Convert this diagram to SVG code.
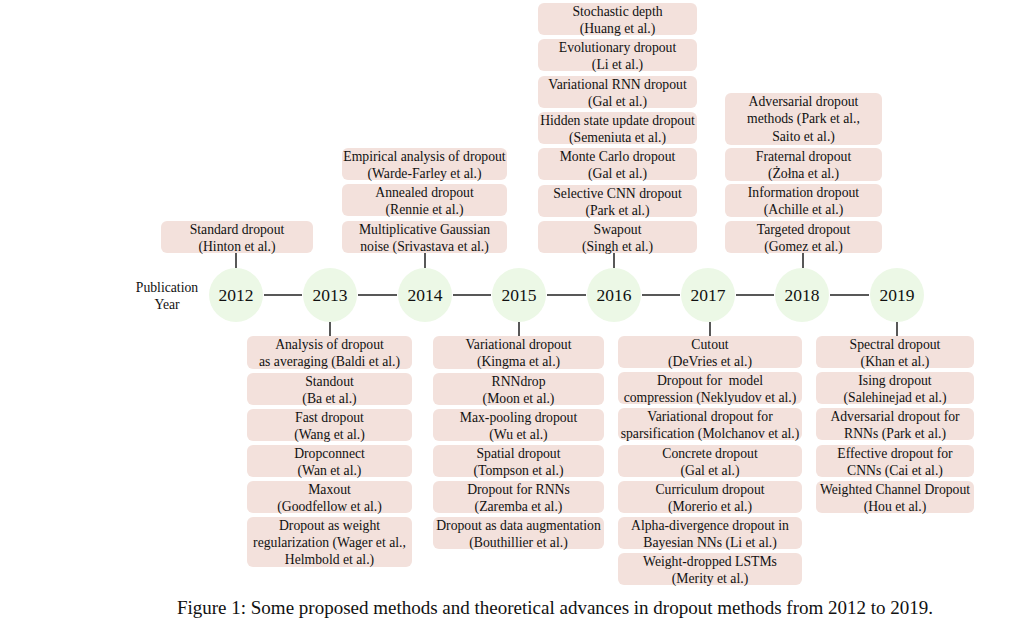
<svg xmlns="http://www.w3.org/2000/svg" width="1030" height="623" viewBox="0 0 1030 623" font-family="'Liberation Serif', 'Times New Roman', serif">
<style>
.b{fill:#f3e1dc;stroke:none}
.t{font-family:'Liberation Serif','Times New Roman',serif;font-size:13.7px;fill:#111;text-anchor:middle}
.y{font-family:'Liberation Serif','Times New Roman',serif;font-size:17.5px;fill:#111;text-anchor:middle}
.c{fill:#ecf8e6}
.l{stroke:#222;stroke-width:1.5;fill:none}
.cap{font-family:'Liberation Serif','Times New Roman',serif;font-size:19px;fill:#111;text-anchor:middle}
</style>
<rect width="1030" height="623" fill="#fff"/>
<g id="connectors">
<path class="l" d="M264 295H302M358 295H397M453 295H491M547 295H586M642 295H680M736 295H774M830 295H869"/>
<path class="l" d="M236 253V268M425 253V268M614 253V268M803 253V268M330 322V336M519 322V336M710 322V336M897 322V336"/>
</g>
<g id="axis-label"><text class="t" x="167" y="292">Publication</text><text class="t" x="167" y="309">Year</text></g>
<g id="years">
<g id="y2012"><circle class="c" cx="236" cy="295" r="27"/><text class="y" x="236" y="301">2012</text></g>
<g id="y2013"><circle class="c" cx="330" cy="295" r="27"/><text class="y" x="330" y="301">2013</text></g>
<g id="y2014"><circle class="c" cx="425" cy="295" r="27"/><text class="y" x="425" y="301">2014</text></g>
<g id="y2015"><circle class="c" cx="519" cy="295" r="27"/><text class="y" x="519" y="301">2015</text></g>
<g id="y2016"><circle class="c" cx="614" cy="295" r="27"/><text class="y" x="614" y="301">2016</text></g>
<g id="y2017"><circle class="c" cx="708" cy="295" r="27"/><text class="y" x="708" y="301">2017</text></g>
<g id="y2018"><circle class="c" cx="802" cy="295" r="27"/><text class="y" x="802" y="301">2018</text></g>
<g id="y2019"><circle class="c" cx="897" cy="295" r="27"/><text class="y" x="897" y="301">2019</text></g>
</g>
<g id="n2012">
<rect class="b" x="161" y="221" width="152" height="32" rx="6"/><text class="t" x="237" y="234">Standard dropout</text><text class="t" x="237" y="251">(Hinton et al.)</text>
</g>
<g id="n2014">
<rect class="b" x="342" y="148" width="165" height="32" rx="6"/><text class="t" x="424.5" y="161">Empirical analysis of dropout</text><text class="t" x="424.5" y="178">(Warde-Farley et al.)</text>
<rect class="b" x="342" y="184" width="165" height="32" rx="6"/><text class="t" x="424.5" y="197">Annealed dropout</text><text class="t" x="424.5" y="214">(Rennie et al.)</text>
<rect class="b" x="342" y="221" width="165" height="32" rx="6"/><text class="t" x="424.5" y="234">Multiplicative Gaussian</text><text class="t" x="424.5" y="251">noise (Srivastava et al.)</text>
</g>
<g id="n2016">
<rect class="b" x="538" y="3" width="159" height="32" rx="6"/><text class="t" x="617.5" y="16">Stochastic depth</text><text class="t" x="617.5" y="33">(Huang et al.)</text>
<rect class="b" x="538" y="39" width="159" height="32" rx="6"/><text class="t" x="617.5" y="52">Evolutionary dropout</text><text class="t" x="617.5" y="69">(Li et al.)</text>
<rect class="b" x="538" y="76" width="159" height="32" rx="6"/><text class="t" x="617.5" y="89">Variational RNN dropout</text><text class="t" x="617.5" y="106">(Gal et al.)</text>
<rect class="b" x="538" y="112" width="159" height="32" rx="6"/><text class="t" x="617.5" y="125">Hidden state update dropout</text><text class="t" x="617.5" y="142">(Semeniuta et al.)</text>
<rect class="b" x="538" y="148" width="159" height="32" rx="6"/><text class="t" x="617.5" y="161">Monte Carlo dropout</text><text class="t" x="617.5" y="178">(Gal et al.)</text>
<rect class="b" x="538" y="185" width="159" height="32" rx="6"/><text class="t" x="617.5" y="198">Selective CNN dropout</text><text class="t" x="617.5" y="215">(Park et al.)</text>
<rect class="b" x="538" y="221" width="159" height="32" rx="6"/><text class="t" x="617.5" y="234">Swapout</text><text class="t" x="617.5" y="251">(Singh et al.)</text>
</g>
<g id="n2018">
<rect class="b" x="725" y="93" width="157" height="52" rx="6"/><text class="t" x="803.5" y="106">Adversarial dropout</text><text class="t" x="803.5" y="123">methods (Park et al.,</text><text class="t" x="803.5" y="141">Saito et al.)</text>
<rect class="b" x="725" y="148" width="157" height="33" rx="6"/><text class="t" x="803.5" y="161">Fraternal dropout</text><text class="t" x="803.5" y="178">(Żołna et al.)</text>
<rect class="b" x="725" y="184" width="157" height="33" rx="6"/><text class="t" x="803.5" y="197">Information dropout</text><text class="t" x="803.5" y="214">(Achille et al.)</text>
<rect class="b" x="725" y="221" width="157" height="32" rx="6"/><text class="t" x="803.5" y="234">Targeted dropout</text><text class="t" x="803.5" y="251">(Gomez et al.)</text>
</g>
<g id="n2013">
<rect class="b" x="247" y="336" width="165" height="33" rx="6"/><text class="t" x="329.5" y="349">Analysis of dropout</text><text class="t" x="329.5" y="366">as averaging (Baldi et al.)</text>
<rect class="b" x="247" y="373" width="165" height="32" rx="6"/><text class="t" x="329.5" y="386">Standout</text><text class="t" x="329.5" y="403">(Ba et al.)</text>
<rect class="b" x="247" y="409" width="165" height="32" rx="6"/><text class="t" x="329.5" y="422">Fast dropout</text><text class="t" x="329.5" y="439">(Wang et al.)</text>
<rect class="b" x="247" y="445" width="165" height="32" rx="6"/><text class="t" x="329.5" y="458">Dropconnect</text><text class="t" x="329.5" y="475">(Wan et al.)</text>
<rect class="b" x="247" y="481" width="165" height="32" rx="6"/><text class="t" x="329.5" y="494">Maxout</text><text class="t" x="329.5" y="511">(Goodfellow et al.)</text>
<rect class="b" x="247" y="517" width="165" height="50" rx="6"/><text class="t" x="329.5" y="530">Dropout as weight</text><text class="t" x="329.5" y="547">regularization (Wager et al.,</text><text class="t" x="329.5" y="564">Helmbold et al.)</text>
</g>
<g id="n2015">
<rect class="b" x="433" y="336" width="171" height="33" rx="6"/><text class="t" x="518.5" y="349">Variational dropout</text><text class="t" x="518.5" y="366">(Kingma et al.)</text>
<rect class="b" x="433" y="373" width="171" height="32" rx="6"/><text class="t" x="518.5" y="386">RNNdrop</text><text class="t" x="518.5" y="403">(Moon et al.)</text>
<rect class="b" x="433" y="409" width="171" height="32" rx="6"/><text class="t" x="518.5" y="422">Max-pooling dropout</text><text class="t" x="518.5" y="439">(Wu et al.)</text>
<rect class="b" x="433" y="445" width="171" height="32" rx="6"/><text class="t" x="518.5" y="458">Spatial dropout</text><text class="t" x="518.5" y="475">(Tompson et al.)</text>
<rect class="b" x="433" y="481" width="171" height="32" rx="6"/><text class="t" x="518.5" y="494">Dropout for RNNs</text><text class="t" x="518.5" y="511">(Zaremba et al.)</text>
<rect class="b" x="433" y="517" width="171" height="32" rx="6"/><text class="t" x="518.5" y="530">Dropout as data augmentation</text><text class="t" x="518.5" y="547">(Bouthillier et al.)</text>
</g>
<g id="n2017">
<rect class="b" x="618" y="336" width="184" height="32" rx="6"/><text class="t" x="710" y="349">Cutout</text><text class="t" x="710" y="366">(DeVries et al.)</text>
<rect class="b" x="618" y="372" width="184" height="32" rx="6"/><text class="t" x="710" y="385" xml:space="preserve">Dropout for  model</text><text class="t" x="710" y="402">compression (Neklyudov et al.)</text>
<rect class="b" x="618" y="408" width="184" height="32" rx="6"/><text class="t" x="710" y="421">Variational dropout for</text><text class="t" x="710" y="438">sparsification (Molchanov et al.)</text>
<rect class="b" x="618" y="445" width="184" height="32" rx="6"/><text class="t" x="710" y="458">Concrete dropout</text><text class="t" x="710" y="475">(Gal et al.)</text>
<rect class="b" x="618" y="481" width="184" height="32" rx="6"/><text class="t" x="710" y="494">Curriculum dropout</text><text class="t" x="710" y="511">(Morerio et al.)</text>
<rect class="b" x="618" y="517" width="184" height="32" rx="6"/><text class="t" x="710" y="530">Alpha-divergence dropout in</text><text class="t" x="710" y="547">Bayesian NNs (Li et al.)</text>
<rect class="b" x="618" y="553" width="184" height="32" rx="6"/><text class="t" x="710" y="566">Weight-dropped LSTMs</text><text class="t" x="710" y="583">(Merity et al.)</text>
</g>
<g id="n2019">
<rect class="b" x="816" y="336" width="158" height="32" rx="6"/><text class="t" x="895" y="349">Spectral dropout</text><text class="t" x="895" y="366">(Khan et al.)</text>
<rect class="b" x="816" y="372" width="158" height="32" rx="6"/><text class="t" x="895" y="385">Ising dropout</text><text class="t" x="895" y="402">(Salehinejad et al.)</text>
<rect class="b" x="816" y="408" width="158" height="32" rx="6"/><text class="t" x="895" y="421">Adversarial dropout for</text><text class="t" x="895" y="438">RNNs (Park et al.)</text>
<rect class="b" x="816" y="445" width="158" height="32" rx="6"/><text class="t" x="895" y="458">Effective dropout for</text><text class="t" x="895" y="475">CNNs (Cai et al.)</text>
<rect class="b" x="816" y="481" width="158" height="32" rx="6"/><text class="t" x="895" y="494">Weighted Channel Dropout</text><text class="t" x="895" y="511">(Hou et al.)</text>
</g>
<text class="cap" x="555" y="614">Figure 1: Some proposed methods and theoretical advances in dropout methods from 2012 to 2019.</text>
</svg>
